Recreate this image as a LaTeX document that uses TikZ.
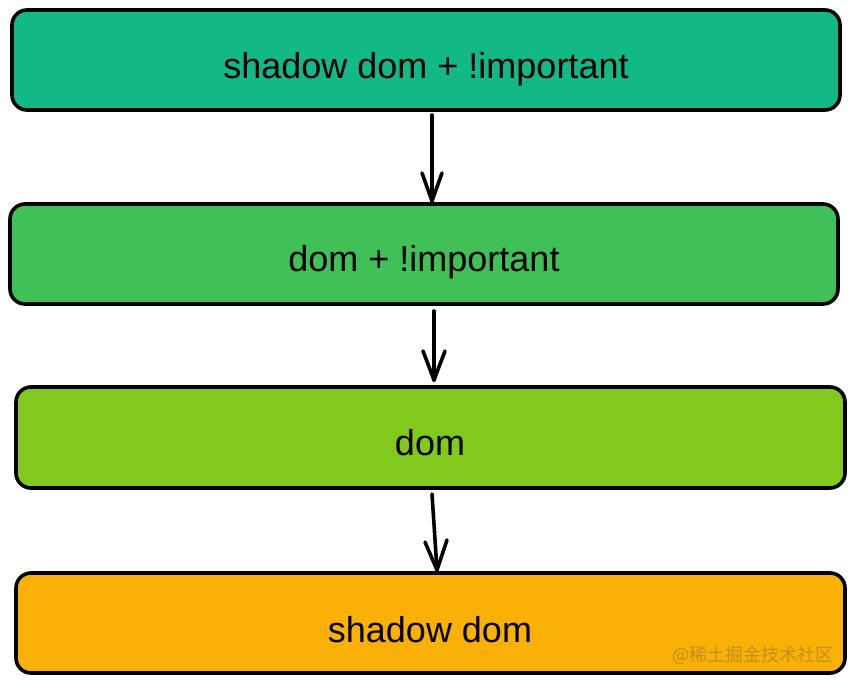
\documentclass[tikz,border=0pt]{standalone}
\usepackage{fontspec}
\setmainfont{Liberation Sans}
\newfontfamily\cjk{Noto Sans CJK SC}
\definecolor{cteal}{HTML}{12B886}
\definecolor{cgreen}{HTML}{40C057}
\definecolor{clime}{HTML}{82C91E}
\definecolor{cyellow}{HTML}{FAB005}
\definecolor{cwm}{HTML}{BF9020}
\begin{document}
\begin{tikzpicture}[x=1pt,y=-1pt,
  stepbox/.style={draw=black,line width=3.6pt,rounded corners=15pt},
  lbl/.style={font=\fontsize{36}{42}\selectfont,text=black},
  arr/.style={line width=3.6pt,line cap=round,line join=round}]
\useasboundingbox (0,0) rectangle (854,685);
\fill[white] (0,0) rectangle (854,685);
\draw[stepbox,fill=cteal] (12,10) rectangle (840,110);
\draw[stepbox,fill=cgreen] (10,204) rectangle (838,304);
\draw[stepbox,fill=clime] (16,387) rectangle (845,488);
\draw[stepbox,fill=cyellow] (16,573) rectangle (845,673);
\node[lbl] (n1) at (426,69) {shadow dom + !important};
\node[lbl] (n2) at (424,262) {dom + !important};
\node[lbl] (n3) at (430,443) {dom};
\node[lbl] (n4) at (430,630) {shadow dom};
\coordinate (a1s) at (432,115);
\coordinate (a1e) at (432,201);
\coordinate (a2s) at (434,311);
\coordinate (a2e) at (434,380);
\coordinate (a3s) at (432,494);
\coordinate (a3e) at (437,570);
\draw[arr] (a1s) -- (a1e);
\draw[arr] ([xshift=-10pt,yshift=28pt]a1e) -- (a1e) -- ([xshift=10pt,yshift=28pt]a1e);
\draw[arr] (a2s) -- (a2e);
\draw[arr] ([xshift=-11pt,yshift=29pt]a2e) -- (a2e) -- ([xshift=11pt,yshift=29pt]a2e);
\draw[arr] (a3s) -- (a3e);
\draw[arr] ([xshift=-12pt,yshift=28pt]a3e) -- (a3e) -- ([xshift=10pt,yshift=30pt]a3e);
\node[font=\cjk\fontsize{18}{21}\selectfont,text=cwm] (wm) at (753,655) {@稀土掘金技术社区};
\end{tikzpicture}
\end{document}
